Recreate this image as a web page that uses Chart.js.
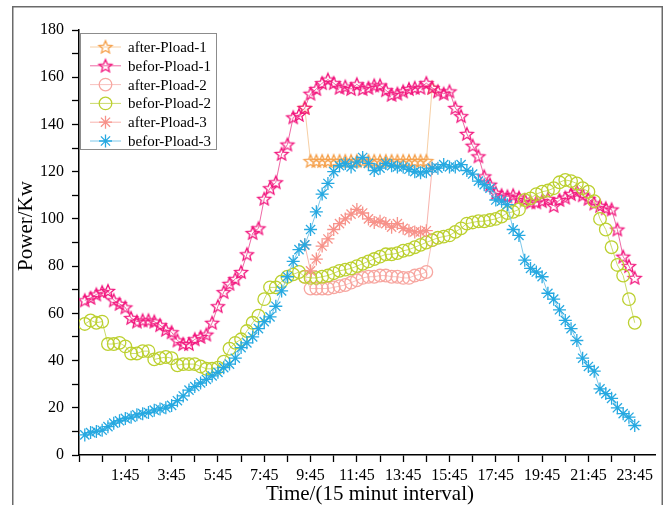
<!DOCTYPE html>
<html>
<head>
<meta charset="utf-8">
<script src="https://cdn.jsdelivr.net/npm/chart.js"></script>
<style>
  html, body { margin:0; padding:0; background:#fff; overflow:hidden; }
  canvas { display:block; }
</style>
</head>
<body>
<canvas id="chart" width="666" height="505"></canvas>
<script>
// ═══════════════════════════════════════════
// Lastkurven vor/nach Pload – 96 Viertelstunden
// ═══════════════════════════════════════════

// Zeitschritte 1..96 (15 min)
const slots = Array.from({ length: 96 }, (_, i) => i + 1);
const xTickLabels = ['1:45','3:45','5:45','7:45','9:45','11:45','13:45','15:45','17:45','19:45','21:45','23:45'];

const beforPload1 = [
  65.5, 66.5, 68, 69, 69.5, 65.5, 64, 62.5, 58, 56.5, 57, 57,
  56.5, 55, 53, 52, 48.5, 47, 47, 49, 50, 51, 56, 63,
  69, 72.5, 74.5, 77.5, 85, 94, 96, 108.5, 113, 115.5, 127.5, 131.5,
  143, 144, 147, 153, 155, 157.5, 159, 157.5, 155.5, 156, 155, 157,
  155, 155.5, 156.5, 156.5, 154.5, 152.5, 153, 154, 155, 155.5, 155.5, 157.5,
  155.5, 154, 153, 154, 147, 143.5, 136, 131, 126.5, 118, 114.5, 111,
  110, 109.5, 110, 109, 108, 107, 107, 107.5, 108.5, 105.5, 108, 109,
  110.5, 111.5, 110, 108.5, 106.5, 105.5, 104.5, 104, 95.5, 84, 80, 75
];

const beforPload2 = [
  55.5, 57, 56, 56.5, 47, 47, 47.5, 46, 43, 43, 44, 44,
  40.5, 41, 41.5, 41, 38, 38.5, 38.5, 38.5, 37.5, 36.5, 36.5, 37,
  39.5, 45, 47.5, 49, 52.5, 56, 59, 66, 71, 71, 73.5, 75.5,
  76.5, 77.5, 75.5, 75, 75, 75.5, 76, 77, 78, 78.5, 79, 80,
  81, 82, 83, 84, 85, 85, 85.5, 86.5, 87, 88, 89, 90,
  91, 92, 92.5, 93, 94.5, 96, 98, 98.5, 99, 99, 99.5, 100,
  101, 102.5, 103, 104, 108, 108.7, 110.5, 111.5, 112, 113, 115.5, 116.5,
  116, 115, 113, 111.5, 107.5, 100, 95.5, 88, 80.5, 76, 66, 56
];

const beforPload3 = [
  8.5, 9.5, 10, 10.5, 12, 13.5, 14.5, 15.5, 16, 17, 17.5, 18,
  19, 19.5, 20, 21, 23, 25, 27.5, 29, 30.5, 32, 33.5, 35,
  37, 38.5, 41, 45.5, 47.5, 50, 53.5, 56.5, 58.5, 63, 69.5, 75.5,
  82, 87, 89, 95.5, 103, 110.5, 115, 120, 122.5, 123.5, 122, 124,
  126, 123.5, 120.5, 121.5, 123.5, 122.5, 122, 122, 121, 120, 119.5, 120,
  121.5, 121.5, 123, 122, 122, 123, 120.5, 119, 116, 114.5, 113, 108,
  107.5, 106, 95.5, 93, 82.5, 79, 77.5, 75.5, 68.5, 66, 61.5, 57,
  53.5, 48.5, 41, 37.5, 35.5, 28, 26, 24, 20, 17.5, 16, 12.5
];

// "after"-Reihen nur im Abschaltfenster, ab Zeitschritt 39 (9:30) bis 61 (15:00)
const afterStart = 39;
const afterPload1 = [
  147, 124.5, 124.5, 124.5, 124.5, 124.5, 124.5, 124.5, 124.5, 124.5, 124.5, 124.5,
  124.5, 124.5, 124.5, 124.5, 124.5, 124.5, 124.5, 124.5, 124.5, 124.5, 155.5
];
const afterPload2 = [
  75.5, 70.5, 70.5, 70.5, 70.5, 71, 71.5, 72, 73, 74, 75, 75.5,
  75.5, 76, 76, 75.5, 75.5, 75, 75, 76, 76.5, 77.5, 91
];
const afterPload3 = [
  89, 78, 83, 88.5, 91.5, 95.5, 98, 100, 102, 104, 102.5, 100,
  98.5, 99, 98, 96.5, 98, 96, 95, 94.5, 94.5, 95, 121.5
];

// ── Symbole ──
function sternBild(farbe) {
  const r = 6.8, size = 18;
  const c = document.createElement('canvas');
  c.width = size; c.height = size;
  const g = c.getContext('2d');
  g.translate(size / 2, size / 2 + 0.5);
  g.beginPath();
  for (let k = 0; k < 10; k++) {
    const a = -Math.PI / 2 + k * Math.PI / 5;
    const rad = k % 2 ? r * 0.45 : r;
    g.lineTo(Math.cos(a) * rad, Math.sin(a) * rad);
  }
  g.closePath();
  g.strokeStyle = farbe;
  g.lineWidth = 1.3;
  g.stroke();
  return c;
}

function zeichneSymbol(ctx, ds, x, y) {
  ctx.save();
  ctx.strokeStyle = ds.pointBorderColor;
  ctx.lineWidth = ds.pointBorderWidth;
  const st = ds.pointStyle;
  if (typeof st === 'object') {
    ctx.drawImage(st, x - st.width / 2, y - st.height / 2);
  } else if (st === 'circle') {
    ctx.beginPath(); ctx.arc(x, y, ds.pointRadius, 0, Math.PI * 2); ctx.stroke();
  } else {
    const r = ds.pointRadius;
    ctx.beginPath();
    for (let k = 0; k < 4; k++) {
      const a = k * Math.PI / 4;
      ctx.moveTo(x - Math.cos(a) * r, y - Math.sin(a) * r);
      ctx.lineTo(x + Math.cos(a) * r, y + Math.sin(a) * r);
    }
    ctx.stroke();
  }
  ctx.restore();
}

const punkte = (werte, start) => werte.map((v, k) => ({ x: slots[0] + start - 1 + k, y: v }));

function reihe(label, werte, start, farbe, linie, symbol, order) {
  return {
    label,
    data: punkte(werte, start),
    borderColor: linie,
    borderWidth: 1,
    pointBorderColor: farbe,
    pointBackgroundColor: 'rgba(0,0,0,0)',
    pointBorderWidth: 1.3,
    pointRadius: symbol === 'circle' ? 6.3 : 6.5,
    pointStyle: symbol === 'stern' ? sternBild(farbe) : symbol,
    tension: 0,
    order
  };
}

const datasets = [
  reihe('after-Pload-1', afterPload1, afterStart, '#F5A04A', '#F7CFA4', 'stern', 5),
  reihe('befor-Pload-1', beforPload1, 1, '#F2157D', '#EE6AA6', 'stern', 4),
  reihe('after-Pload-2', afterPload2, afterStart, '#F7A7A1', '#F8C2BE', 'circle', 3),
  reihe('befor-Pload-2', beforPload2, 1, '#BCD02F', '#CADB6A', 'circle', 2),
  reihe('after-Pload-3', afterPload3, afterStart, '#F7928A', '#F8B3AD', 'star', 1),
  reihe('befor-Pload-3', beforPload3, 1, '#27A9E1', '#7EC8EA', 'star', 0)
];

// ── Rahmen, Legende + Achsentitel ──
const extrasPlugin = {
  id: 'extras',
  beforeDraw(chart) {
    const ctx = chart.ctx;
    ctx.save();
    ctx.fillStyle = '#fff';
    ctx.fillRect(0, 0, chart.width, chart.height);
    ctx.strokeStyle = '#6a6a6a';
    ctx.lineWidth = 1.5;
    ctx.strokeRect(12.75, 6.75, 649.5, 540);
    ctx.restore();
  },
  afterDraw(chart) {
    const ctx = chart.ctx;
    ctx.save();
    ctx.fillStyle = '#fff';
    ctx.fillRect(80.5, 33.5, 136, 116);
    ctx.strokeStyle = '#8c8c8c';
    ctx.lineWidth = 1;
    ctx.strokeRect(80.5, 33.5, 136, 116);

    chart.data.datasets.forEach((ds, k) => {
      const y = 47 + k * 18.8;
      ctx.strokeStyle = ds.borderColor;
      ctx.lineWidth = 1;
      ctx.beginPath(); ctx.moveTo(90, y); ctx.lineTo(121, y); ctx.stroke();
      zeichneSymbol(ctx, ds, 105.5, y);
      ctx.fillStyle = '#000';
      ctx.font = '15px "Liberation Serif"';
      ctx.textAlign = 'left';
      ctx.textBaseline = 'middle';
      ctx.fillText(ds.label, 128, y + 1);
    });

    ctx.fillStyle = '#000';
    ctx.font = '21px "Liberation Serif"';
    ctx.textAlign = 'center';
    ctx.textBaseline = 'alphabetic';
    ctx.fillText('Time/(15 minut interval)', 370, 500);

    ctx.translate(32, 226);
    ctx.rotate(-Math.PI / 2);
    ctx.fillText('Power/Kw', 0, 0);
    ctx.restore();
  }
};

const tickFont = { family: 'Liberation Serif', size: 16 };

new Chart(document.getElementById('chart'), {
  type: 'line',
  data: { datasets },
  options: {
    responsive: false,
    animation: false,
    devicePixelRatio: 1,
    layout: { padding: { top: 30, right: 11, left: 0, bottom: 0 } },
    plugins: { legend: { display: false }, tooltip: { enabled: false } },
    scales: {
      x: {
        type: 'linear',
        min: 0,
        max: 99.5,
        afterBuildTicks: s => {
          s.ticks = [];
          for (let v = 0; v <= 96; v += 4) s.ticks.push({ value: v });
        },
        afterFit: s => { s.height = 50; },
        grid: { drawOnChartArea: false, drawTicks: true, tickLength: 7, color: '#000', tickWidth: 1.3 },
        border: { color: '#000', width: 1.5 },
        ticks: {
          autoSkip: false,
          maxRotation: 0,
          padding: 4,
          color: '#000',
          font: tickFont,
          callback: v => (v > 0 && v % 8 === 0) ? xTickLabels[v / 8 - 1] : ''
        }
      },
      y: {
        min: 0,
        max: 180,
        afterFit: s => { s.width = 79; },
        grid: { drawOnChartArea: false, drawTicks: true, tickLength: 7, color: '#000', tickWidth: 1.3 },
        border: { color: '#000', width: 1.5 },
        ticks: {
          stepSize: 10,
          padding: 8,
          color: '#000',
          font: tickFont,
          callback: v => v % 20 === 0 ? String(v) : ''
        }
      }
    }
  },
  plugins: [extrasPlugin]
});
</script>
</body>
</html>
